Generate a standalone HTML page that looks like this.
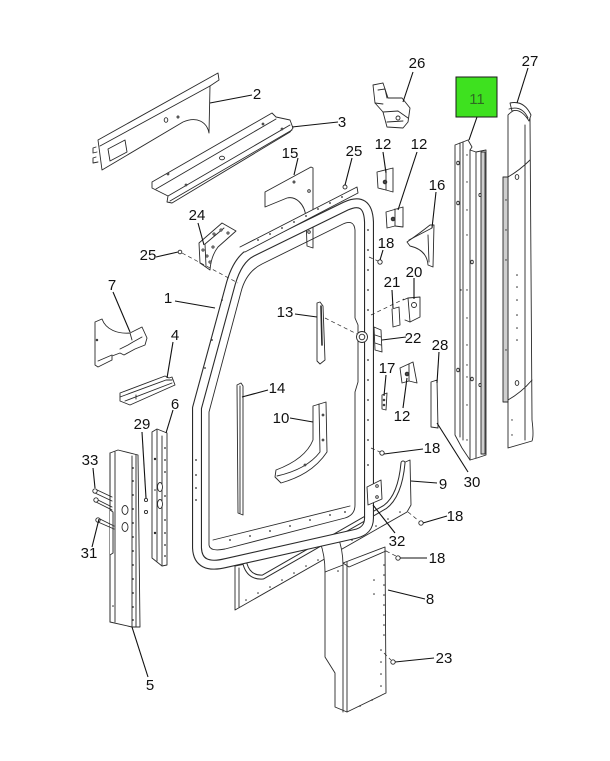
<!DOCTYPE html>
<html><head><meta charset="utf-8"><style>html,body{margin:0;padding:0;background:#fff;}svg{display:block}</style></head>
<body>
<svg width="610" height="761" viewBox="0 0 610 761" xmlns="http://www.w3.org/2000/svg">
<rect width="610" height="761" fill="#fff"/>
<g fill="#fff" stroke="#2a2a2a" stroke-width="0.9" stroke-linejoin="round" stroke-linecap="round">

<!-- Part 2 -->
<path d="M98,140 L218,73 L219,80 L210,86 L209,133 C207,122 197,116 183,122 L102,170 Z"/>
<path d="M100,146 L210,86" fill="none"/>
<path d="M96,147 L93,148 L93,153 L97,152 M96,157 L93,158 L93,163 L98,162" fill="none"/>
<path d="M108,149 L125,140 L127,152 L110,161 Z"/>
<ellipse cx="166" cy="120" rx="1.8" ry="2.3"/><circle cx="178" cy="117" r="1"/>

<!-- Part 3 -->
<path d="M152,182 L272,113 L276,117 L290,120 L293,128 L290,132 L172,203 L167,202 L168,196 L156,190 L152,188 Z"/>
<path d="M156,189 L276,119 M168,196 L290,125 M170,201 L292,130" fill="none"/>
<ellipse cx="222" cy="158" rx="2.5" ry="1.8"/><circle cx="168" cy="174" r="0.9"/><circle cx="263" cy="124" r="0.9"/><circle cx="282" cy="129" r="0.9"/><circle cx="186" cy="185" r="0.9"/>

<!-- Part 15 -->
<path d="M265,192 L311,167 L313,168 L313,248 L307,246 L306,218 C305,203 295,196 287,198 L265,207 Z"/>
<circle cx="309" cy="191" r="1.3"/><circle cx="309" cy="232" r="1.3"/><circle cx="294" cy="182" r="1"/>

<!-- Part 26 -->
<path d="M373,85 L383,83 L388,98 L402,98 L410,108 L408,122 L403,128 L387,127 L383,112 L375,103 Z"/>
<path d="M378,90 L385,89 L387,98 M383,112 L398,111 L408,118 M387,122 L403,121 M375,103 L383,104" fill="none"/>
<circle cx="398" cy="118" r="2"/>

<!-- Part 27 -->
<path d="M508,115 Q519,103 530,118 L532,420 Q534,436 532,441 L508,448 Z"/>
<path d="M510,103 Q524,100 531,115 L529,121 Q521,108 512,111 Z" fill="#fff"/>
<path d="M509,109 Q522,105 528,118" fill="none"/>
<rect x="503" y="177" width="5" height="225" fill="#cfcfcf"/>
<path d="M508,177 Q520,170 530,160 M508,400 Q522,392 532,380 M525,125 L525,440" fill="none"/>
<ellipse cx="517" cy="177" rx="1.8" ry="2.4"/><ellipse cx="517" cy="383" rx="1.8" ry="2.4"/>
<g fill="#2a2a2a" stroke="none"><circle cx="517" cy="275" r="0.8"/><circle cx="517" cy="287" r="0.8"/><circle cx="517" cy="300" r="0.8"/><circle cx="517" cy="315" r="0.8"/><circle cx="517" cy="328" r="0.8"/><circle cx="517" cy="340" r="0.8"/><circle cx="506" cy="200" r="0.7"/><circle cx="506" cy="230" r="0.7"/><circle cx="506" cy="260" r="0.7"/><circle cx="506" cy="350" r="0.7"/><circle cx="512" cy="420" r="0.7"/><circle cx="512" cy="435" r="0.7"/></g>

<!-- Part 11 -->
<path d="M455,145 L468,140 L472,147 L470,150 L476,152 L486,150 L486,455 L477,458 L470,460 L462,448 L455,435 Z"/>
<rect x="481" y="152" width="4" height="302" fill="#cfcfcf"/>
<path d="M460,143 L460,437 M463,142 L463,440 M470,150 L470,460 M476,152 L476,458" fill="none"/>
<g fill="#fff"><ellipse cx="458" cy="163" rx="1.3" ry="1.8"/><ellipse cx="458" cy="203" rx="1.3" ry="1.8"/><ellipse cx="458" cy="370" rx="1.3" ry="1.8"/><ellipse cx="472" cy="262" rx="1.3" ry="1.8"/><ellipse cx="472" cy="379" rx="1.3" ry="1.8"/><ellipse cx="480" cy="195" rx="1.1" ry="1.6"/><ellipse cx="480" cy="385" rx="1.1" ry="1.6"/></g>
<g fill="#2a2a2a" stroke="none"><circle cx="467" cy="155" r="0.7"/><circle cx="467" cy="182" r="0.7"/><circle cx="467" cy="210" r="0.7"/><circle cx="467" cy="235" r="0.7"/><circle cx="467" cy="290" r="0.7"/><circle cx="467" cy="318" r="0.7"/><circle cx="467" cy="345" r="0.7"/><circle cx="467" cy="365" r="0.7"/><circle cx="467" cy="377" r="0.7"/><circle cx="467" cy="405" r="0.7"/><circle cx="467" cy="440" r="0.7"/><circle cx="461" cy="290" r="0.7"/></g>

<!-- Part 24 -->
<path d="M199,243 L222,223 L236,231 L218,247 Q211,256 210,270 L200,263 Z"/>
<path d="M205,244 L224,228 M205,244 L206,266" fill="none"/>
<circle cx="203" cy="250" r="1.1"/><circle cx="207" cy="256" r="1.1"/><circle cx="214" cy="234" r="1.1"/><circle cx="221" cy="230" r="1.1"/><circle cx="228" cy="233" r="1.1"/><circle cx="213" cy="247" r="1.1"/><circle cx="210" cy="262" r="1.1"/>

<!-- Part 7 -->
<path d="M95,322 L95,365 L98,367 L112,360 L112,356 L120,353 L124,355 L135,349 L145,345 L147,338 L142,327 L130,333 C118,334 106,330 102,319 Z"/>
<path d="M98,361 L112,355 M120,349 L128,345 L133,342 L142,337 M130,333 L132,340" fill="none"/>
<circle cx="97" cy="340" r="0.8"/>

<!-- Part 4 -->
<path d="M120,393 L165,376 L169,378 L172,377 L175,385 L130,405 L120,401 Z"/>
<path d="M120,397 L166,380 L172,380 M125,401 L172,383 M136,395 L136,399" fill="none"/>

<!-- Part 6 -->
<path d="M152,432 L157,429 L167,433 L167,565 L162,566 L152,558 Z"/>
<path d="M157,430 L157,561 M162,436 L162,565" fill="none"/>
<ellipse cx="160" cy="487" rx="2.5" ry="4.5"/><ellipse cx="160" cy="504" rx="2.5" ry="4.5"/>
<g fill="#2a2a2a" stroke="none"><circle cx="165" cy="448" r="0.9"/><circle cx="165" cy="460" r="0.9"/><circle cx="165" cy="472" r="0.9"/><circle cx="165" cy="496" r="0.9"/><circle cx="165" cy="520" r="0.9"/><circle cx="165" cy="533" r="0.9"/><circle cx="165" cy="545" r="0.9"/><circle cx="165" cy="556" r="0.9"/><circle cx="155" cy="459" r="1.2"/><circle cx="155" cy="533" r="1.2"/><circle cx="155" cy="490" r="0.8"/></g>

<!-- Part 5 -->
<path d="M110,453 L118,450 L138,455 L140,627 L132,627 L110,622 L110,510 L113,513 L113,553 L110,553 Z" />
<path d="M110,453 L110,622 M115,452 L115,622 M132,456 L132,627 M136,455 L136,627" fill="none"/>
<path d="M110,510 L113,512 L113,553 L110,555" fill="#fff"/>
<ellipse cx="125" cy="510" rx="3" ry="4.5"/><ellipse cx="125" cy="527" rx="3" ry="4.5"/>
<g fill="#2a2a2a" stroke="none"><circle cx="133" cy="468" r="0.9"/><circle cx="133" cy="481" r="0.9"/><circle cx="133" cy="495" r="0.9"/><circle cx="133" cy="509" r="0.9"/><circle cx="133" cy="523" r="0.9"/><circle cx="133" cy="537" r="0.9"/><circle cx="133" cy="551" r="0.9"/><circle cx="133" cy="565" r="0.9"/><circle cx="133" cy="579" r="0.9"/><circle cx="133" cy="593" r="0.9"/><circle cx="133" cy="607" r="0.9"/><circle cx="133" cy="620" r="0.9"/><circle cx="113" cy="606" r="0.8"/></g>

<!-- Screws 33/31/29 -->
<path d="M95,489 L112,497 M95,493 L112,501 M96,499 L112,507 M96,502 L112,510 M98,518 L114,526 M98,522 L114,529" fill="none"/>
<circle cx="95" cy="491" r="2.2"/><circle cx="96" cy="500" r="2.2"/><circle cx="98" cy="520" r="2.2"/>
<circle cx="146" cy="500" r="1.6"/><circle cx="146" cy="512" r="1.6"/>

<!-- Part 9 (sill) -->
<path d="M235,566 L245,564 Q249,578 263,577 L385,507 Q400,496 403,463 L410,460 L411,505 L407,512 L235,610 Z"/>
<path d="M245,564 Q249,578 263,577 L385,507 Q400,496 403,463" fill="none" stroke="#2a2a2a" stroke-width="5"/>
<path d="M245,564 Q249,578 263,577 L385,507 Q400,496 403,463" fill="none" stroke="#fff" stroke-width="3"/>
<path d="M239,568 L239,607" fill="none"/>
<g fill="#2a2a2a" stroke="none"><circle cx="246" cy="600" r="0.8"/><circle cx="258" cy="593" r="0.8"/><circle cx="270" cy="587" r="0.8"/><circle cx="282" cy="580" r="0.8"/><circle cx="294" cy="573" r="0.8"/><circle cx="306" cy="566" r="0.8"/><circle cx="318" cy="560" r="0.8"/><circle cx="352" cy="540" r="0.8"/><circle cx="364" cy="533" r="0.8"/><circle cx="376" cy="526" r="0.8"/><circle cx="388" cy="519" r="0.8"/><circle cx="400" cy="512" r="0.8"/></g>

<!-- Part 8 (post) -->
<path d="M325,572 L343,563 L385,547 L386,693 L347,712 L335,707 L335,673 L325,657 Z"/>
<path d="M343,563 L343,712 M347,562 L347,712 M343,563 L349,567 L386,551" fill="none"/>
<path d="M320,542 Q329,535 337,534 Q343,549 343,565 L325,572 Q325,555 320,542 Z"/>
<g fill="#2a2a2a" stroke="none"><circle cx="384" cy="565" r="0.8"/><circle cx="384" cy="575" r="0.8"/><circle cx="384" cy="585" r="0.8"/><circle cx="384" cy="595" r="0.8"/><circle cx="384" cy="605" r="0.8"/><circle cx="384" cy="615" r="0.8"/><circle cx="384" cy="625" r="0.8"/><circle cx="384" cy="635" r="0.8"/><circle cx="381" cy="650" r="0.8"/><circle cx="381" cy="662" r="0.8"/><circle cx="381" cy="674" r="0.8"/><circle cx="381" cy="686" r="0.8"/><circle cx="372" cy="700" r="0.8"/><circle cx="360" cy="706" r="0.8"/><circle cx="374" cy="580" r="0.8"/><circle cx="374" cy="594" r="0.8"/><circle cx="338" cy="571" r="0.8"/></g>

<!-- Frame tube -->
<path d="M197,548 L197,408 L231,283 Q238,259 252,252 L346,206 Q368,196 369,222 L369,518 Q369,531 355,534 L226,563 Q198,570 197,548 Z" fill="none" stroke="#2a2a2a" stroke-width="10"/>
<path d="M197,548 L197,408 L231,283 Q238,259 252,252 L346,206 Q368,196 369,222 L369,518 Q369,531 355,534 L226,563 Q198,570 197,548 Z" fill="none" stroke="#fff" stroke-width="7.8"/>
<!-- inner flange line -->
<path d="M209,545 L209,412 L241,292 Q246,272 262,264 L343,224 Q354,219 355,230 L355,318 L358,325 L358,382 L355,392 L355,505 Q355,515 345,518 L225,549 Q210,552 209,545 Z" fill="none"/>
<path d="M213,540 L350,506" fill="none"/>
<!-- top flange strip -->
<path d="M240,247 L357,187 L358,193 L245,252" fill="#fff"/>
<g fill="#2a2a2a" stroke="none"><circle cx="258" cy="240" r="0.9"/><circle cx="270" cy="234" r="0.9"/><circle cx="282" cy="228" r="0.9"/><circle cx="294" cy="222" r="0.9"/><circle cx="306" cy="216" r="0.9"/><circle cx="318" cy="209" r="0.9"/><circle cx="330" cy="203" r="0.9"/><circle cx="342" cy="197" r="0.9"/>
<circle cx="368" cy="230" r="0.9"/><circle cx="368" cy="250" r="0.9"/><circle cx="368" cy="270" r="0.9"/><circle cx="368" cy="290" r="0.9"/><circle cx="368" cy="310" r="0.9"/><circle cx="368" cy="360" r="0.9"/><circle cx="368" cy="380" r="0.9"/><circle cx="368" cy="400" r="0.9"/><circle cx="368" cy="420" r="0.9"/><circle cx="368" cy="440" r="0.9"/><circle cx="368" cy="465" r="0.9"/><circle cx="368" cy="490" r="0.9"/>
<circle cx="196" cy="460" r="0.9"/><circle cx="196" cy="475" r="0.9"/><circle cx="196" cy="488" r="0.9"/><circle cx="196" cy="500" r="0.9"/><circle cx="222" cy="300" r="0.9"/><circle cx="212" cy="340" r="0.9"/><circle cx="205" cy="368" r="0.9"/>
<circle cx="230" cy="540" r="0.9"/><circle cx="250" cy="536" r="0.9"/><circle cx="270" cy="531" r="0.9"/><circle cx="290" cy="526" r="0.9"/><circle cx="310" cy="520" r="0.9"/><circle cx="330" cy="515" r="0.9"/><circle cx="345" cy="512" r="0.9"/></g>

<!-- grommet -->
<circle cx="362" cy="337" r="5.5"/><circle cx="362" cy="337" r="2.8"/>

<!-- Part 13 -->
<path d="M317,303 L320,302 L323,306 L325,360 L320,364 L317,361 Z"/>
<path d="M321,306 L322,345" fill="none" stroke-width="1.6"/>
<!-- Part 14 -->
<path d="M237,385 L241,383 L243,386 L243,515 L238,513 Z"/>
<path d="M240,386 L240,513" fill="none"/>
<!-- Part 10 -->
<path d="M313,406 L326,402 L327,452 C315,470 298,478 281,483 L275,477 L276,470 C292,464 307,455 313,440 Z"/>
<path d="M319,404 L320,452 C310,465 295,472 277,476" fill="none"/>
<circle cx="323" cy="415" r="0.9"/><circle cx="323" cy="440" r="0.9"/><circle cx="305" cy="465" r="0.9"/>

<!-- Part 16 -->
<path d="M407,242 Q420,233 430,225 L434,225 L433,267 L428,265 Q427,250 410,246 Z"/>
<path d="M409,240 L432,228 M428,235 L429,262" fill="none"/>
<!-- Parts 12 -->
<path d="M377,172 L393,168 L393,192 L386,190 L378,188 Z"/><path d="M386,170 L386,190" fill="none"/><circle cx="385" cy="182" r="1.8" fill="#444"/>
<path d="M386,212 L403,207 L403,227 L395,226 L387,228 Z"/><path d="M395,209 L395,226" fill="none"/><circle cx="393" cy="219" r="1.8" fill="#444"/>
<path d="M400,368 L413,362 L417,383 L409,381 L402,383 Z"/><path d="M409,364 L409,381" fill="none"/><circle cx="407" cy="374" r="1.8" fill="#444"/>
<!-- Part 21 -->
<path d="M392,309 L399,307 L400,325 L393,327 Z"/>
<!-- Part 20 -->
<path d="M408,298 L420,297 L420,317 L410,322 Z"/><circle cx="414" cy="305" r="2.5"/><path d="M403,300 L408,298 M410,322 L405,320" fill="none"/>
<!-- Part 22 -->
<path d="M374,327 L381,330 L382,352 L375,350 Z"/><path d="M375,335 L381,337 M375,343 L381,345" fill="none"/>
<!-- Part 17 -->
<path d="M382,395 L387,393 L386,410 L382,409 Z"/><circle cx="384" cy="400" r="0.8"/><circle cx="384" cy="405" r="0.8"/>
<!-- Part 28 -->
<path d="M431,382 L437,380 L438,428 L431,427 Z"/>
<!-- Part 32 -->
<path d="M367,487 L381,480 L382,499 L368,505 Z"/><circle cx="377" cy="486" r="1.3"/><circle cx="377" cy="497" r="1.3"/>

<!-- Screws -->
<circle cx="180" cy="252" r="1.8"/>
<circle cx="380" cy="262" r="2.2"/>
<circle cx="382" cy="453" r="2.2"/>
<circle cx="421" cy="523" r="2.2"/>
<circle cx="398" cy="558" r="2.2"/>
<circle cx="393" cy="662" r="2.2"/>
<circle cx="345" cy="187" r="2"/>
</g>

<!-- dashed lines -->
<g fill="none" stroke="#2a2a2a" stroke-width="0.7" stroke-dasharray="4,3">
<path d="M182,253 L238,283"/>
<path d="M325,318 L357,334"/>
<path d="M369,257 L378,261"/>
<path d="M371,315 L404,299"/>
<path d="M371,448 L380,452"/>
<path d="M408,512 L419,521"/>
<path d="M386,551 L396,556"/>
<path d="M384,653 L391,660"/>
</g>

<!-- leaders -->
<g fill="none" stroke="#111" stroke-width="1.1">
<path d="M210,103 L252,95"/>
<path d="M292,127 L338,122"/>
<path d="M298,158 L294,175"/>
<path d="M352,158 L345,185"/>
<path d="M198,223 L204,245"/>
<path d="M156,257 L178,252"/>
<path d="M175,301 L215,308"/>
<path d="M113,292 L130,332"/>
<path d="M173,342 L167,378"/>
<path d="M173,410 L166,433"/>
<path d="M142,432 L146,498"/>
<path d="M93,468 L95,488"/>
<path d="M92,547 L99,519"/>
<path d="M132,627 L148,677"/>
<path d="M295,314 L317,317"/>
<path d="M268,390 L242,397"/>
<path d="M290,418 L313,422"/>
<path d="M395,533 L373,505"/>
<path d="M383,250 L380,260"/>
<path d="M392,290 L393,308"/>
<path d="M414,278 L414,299"/>
<path d="M406,337 L382,340"/>
<path d="M386,375 L384,396"/>
<path d="M403,408 L407,378"/>
<path d="M383,152 L386,173"/>
<path d="M417,152 L398,210"/>
<path d="M436,192 L432,228"/>
<path d="M439,352 L437,383"/>
<path d="M437,423 L468,472"/>
<path d="M423,449 L384,454"/>
<path d="M413,72 L403,102"/>
<path d="M528,68 L517,103"/>
<path d="M477,117 L469,140"/>
<path d="M411,481 L437,483"/>
<path d="M423,523 L447,516"/>
<path d="M400,558 L427,558"/>
<path d="M388,590 L425,599"/>
<path d="M395,662 L434,658"/>
</g>

<!-- green box -->
<rect x="456" y="77" width="41" height="40" fill="#3ee11f" stroke="#1a1a1a" stroke-width="1"/>

<g font-family="Liberation Sans, Arial, sans-serif" font-size="15" fill="#111" text-anchor="middle">
<text x="257" y="99">2</text>
<text x="342" y="127">3</text>
<text x="290" y="158">15</text>
<text x="354" y="156">25</text>
<text x="197" y="220">24</text>
<text x="148" y="260">25</text>
<text x="168" y="303">1</text>
<text x="112" y="290">7</text>
<text x="175" y="340">4</text>
<text x="175" y="409">6</text>
<text x="142" y="429">29</text>
<text x="90" y="465">33</text>
<text x="89" y="558">31</text>
<text x="150" y="690">5</text>
<text x="285" y="317">13</text>
<text x="277" y="393">14</text>
<text x="281" y="423">10</text>
<text x="397" y="546">32</text>
<text x="386" y="248">18</text>
<text x="392" y="287">21</text>
<text x="414" y="277">20</text>
<text x="413" y="343">22</text>
<text x="387" y="373">17</text>
<text x="402" y="421">12</text>
<text x="383" y="149">12</text>
<text x="419" y="149">12</text>
<text x="437" y="190">16</text>
<text x="440" y="350">28</text>
<text x="432" y="453">18</text>
<text x="417" y="68">26</text>
<text x="530" y="66">27</text>
<text x="443" y="489">9</text>
<text x="472" y="487">30</text>
<text x="455" y="521">18</text>
<text x="437" y="563">18</text>
<text x="430" y="604">8</text>
<text x="444" y="663">23</text>
<text x="477" y="104" fill="#2f6b22">11</text>
</g>
</svg>
</body></html>
